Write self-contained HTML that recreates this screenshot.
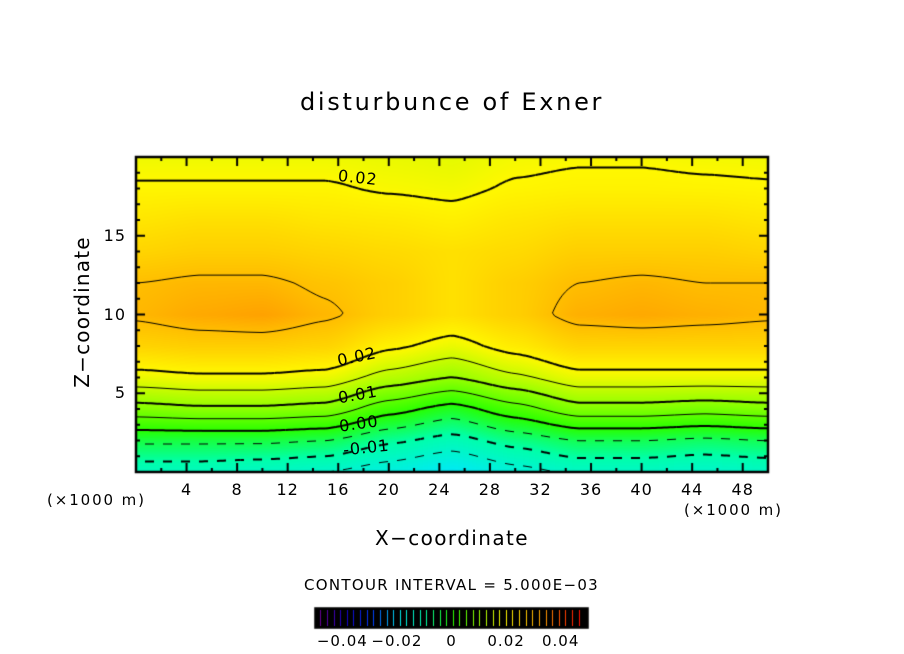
<!DOCTYPE html>
<html><head><meta charset="utf-8">
<style>
html,body{margin:0;padding:0;background:#fff;}
#root{position:relative;width:904px;height:654px;overflow:hidden;font-family:"DejaVu Sans","Liberation Sans",sans-serif;color:#000;}
.t{position:absolute;white-space:nowrap;}
canvas{position:absolute;left:0;top:0;}
</style></head>
<body>
<div id="root">
<canvas id="cv" width="904" height="654"></canvas>
<div class="t" style="left:300px;top:88px;font-size:24px;letter-spacing:2.7px;">disturbunce of Exner</div>
<div class="t" style="left:-8px;top:300px;font-size:20px;letter-spacing:1.2px;transform:rotate(-90deg);transform-origin:center;width:180px;text-align:center;">Z−coordinate</div>
<div class="t" style="left:375px;top:526px;font-size:20px;letter-spacing:1.4px;">X−coordinate</div>
<div class="t" style="left:47px;top:491px;font-size:15px;letter-spacing:1.9px;">(×1000 m)</div>
<div class="t" style="left:684px;top:501px;font-size:15px;letter-spacing:1.9px;">(×1000 m)</div>
<div class="t" style="left:304px;top:576px;font-size:15px;letter-spacing:1.3px;">CONTOUR INTERVAL = 5.000E−03</div>
<div class="t" style="left:338px;top:168px;font-size:16px;letter-spacing:1px;transform:rotate(6deg);">0.02</div>
<div class="t" style="left:337px;top:347px;font-size:16px;letter-spacing:1px;transform:rotate(-12deg);">0.02</div>
<div class="t" style="left:338px;top:385px;font-size:16px;letter-spacing:1px;transform:rotate(-10deg);">0.01</div>
<div class="t" style="left:339px;top:414px;font-size:16px;letter-spacing:1px;transform:rotate(-8deg);">0.00</div>
<div class="t" style="left:343px;top:438px;font-size:16px;letter-spacing:1px;transform:rotate(-6deg);">-0.01</div>
</div>
<script>
// data: x columns (km), z rows (km), values[col][row]
const xs=[0,5,10,15,20,25,30,35,40,45,50];
const zs=[0,2,4,6,8,10,12,14,16,18,20];
const col0=[-0.013,-0.004,0.008,0.018,0.026,0.031,0.030,0.026,0.023,0.0205,0.0185];
const col5=[-0.013,-0.004,0.009,0.019,0.027,0.033,0.031,0.027,0.024,0.0205,0.0185];
const col10=[-0.014,-0.004,0.009,0.019,0.027,0.034,0.031,0.027,0.024,0.0205,0.0185];
const col15=[-0.015,-0.005,0.008,0.018,0.026,0.031,0.029,0.026,0.023,0.0205,0.0185];
const col20=[-0.018,-0.009,0.002,0.013,0.021,0.027,0.027,0.025,0.0225,0.0195,0.018];
const col25=[-0.021,-0.012,-0.002,0.010,0.018,0.024,0.024,0.024,0.0215,0.019,0.0175];
const col30=[-0.017,-0.008,0.003,0.014,0.022,0.027,0.027,0.025,0.023,0.0205,0.019];
const col35=[-0.014,-0.005,0.008,0.018,0.026,0.032,0.030,0.027,0.024,0.021,0.0195];
const col40=[-0.014,-0.005,0.008,0.018,0.026,0.033,0.031,0.027,0.024,0.021,0.0195];
const col45=[-0.015,-0.006,0.007,0.018,0.026,0.032,0.030,0.027,0.024,0.0208,0.019];
const col50=[-0.014,-0.005,0.008,0.018,0.026,0.031,0.030,0.026,0.023,0.0205,0.0188];
const cols=[col0,col5,col10,col15,col20,col25,col30,col35,col40,col45,col50];
const levels=[-0.015,-0.01,-0.005,0,0.005,0.01,0.015,0.02,0.03];
const majorLevels=[-0.01,0,0.01,0.02];
const xTicks=[4,8,12,16,20,24,28,32,36,40,44,48];
const zTicks=[5,10,15];
const cbTicks=[-0.04,-0.02,0,0.02,0.04];
const cbTickLabels=["−0.04","−0.02","0","0.02","0.04"];

const L=136,R=768,T=157,B=472,XMAX=50,ZMAX=20;
const sx=x=>L+x/XMAX*(R-L), sz=z=>B-z/ZMAX*(B-T);
const cv=document.getElementById('cv'),ctx=cv.getContext('2d');
const root=document.getElementById('root');

function val(x,z){
  let i=0;while(i<xs.length-2&&x>xs[i+1])i++;
  let j=0;while(j<zs.length-2&&z>zs[j+1])j++;
  const tx=(x-xs[i])/(xs[i+1]-xs[i]),tz=(z-zs[j])/(zs[j+1]-zs[j]);
  const a=cols[i][j],b=cols[i+1][j],c=cols[i][j+1],d=cols[i+1][j+1];
  const sx_=tx*tx*(3-2*tx)*0.5+tx*0.5, sz_=tz;
  return (a*(1-sx_)+b*sx_)*(1-sz_)+(c*(1-sx_)+d*sx_)*sz_;
}
const stops=[[-0.05,[110,0,150]],[-0.04,[20,0,200]],[-0.03,[0,60,255]],[-0.02,[0,235,240]],[-0.01,[0,255,170]],[0,[40,255,0]],[0.01,[150,255,0]],[0.02,[255,248,0]],[0.025,[255,218,0]],[0.03,[255,190,0]],[0.035,[255,155,0]],[0.04,[255,90,0]],[0.05,[255,0,0]]];
function color(v){
  if(v<=stops[0][0])return stops[0][1];
  for(let k=0;k<stops.length-1;k++){
    if(v<=stops[k+1][0]){const t=(v-stops[k][0])/(stops[k+1][0]-stops[k][0]);
      return stops[k][1].map((c,n)=>Math.round(c+(stops[k+1][1][n]-c)*t));}
  }
  return stops[stops.length-1][1];
}
const img=ctx.createImageData(R-L,B-T);
for(let py=0;py<B-T;py++)for(let px=0;px<R-L;px++){
  const x=px/(R-L)*XMAX,z=(B-T-py)/(B-T)*ZMAX;
  const c=color(val(x,z));const o=(py*(R-L)+px)*4;
  img.data[o]=c[0];img.data[o+1]=c[1];img.data[o+2]=c[2];img.data[o+3]=255;
}
ctx.putImageData(img,L,T);
const step=3;
ctx.save();ctx.beginPath();ctx.rect(L,T,R-L,B-T);ctx.clip();
ctx.strokeStyle='#000';
levels.forEach(lev=>{
  const major=majorLevels.indexOf(lev)>=0;
  ctx.lineWidth=major?2:1;
  for(let px=L;px<R;px+=step)for(let py=T;py<B;py+=step){
    const p=[[px,py],[px+step,py],[px+step,py+step],[px,py+step]];
    const v=p.map(q=>val((q[0]-L)/(R-L)*XMAX,(B-q[1])/(B-T)*ZMAX));
    const pts=[];
    for(let e=0;e<4;e++){const a=v[e],b=v[(e+1)%4];
      if((a<lev)!==(b<lev)){const t=(lev-a)/(b-a);const A=p[e],Bp=p[(e+1)%4];pts.push([A[0]+(Bp[0]-A[0])*t,A[1]+(Bp[1]-A[1])*t]);}}
    if(pts.length>=2){
      if(lev<0&&Math.floor(px/9)%2===1)continue;
      ctx.beginPath();ctx.moveTo(pts[0][0],pts[0][1]);ctx.lineTo(pts[1][0],pts[1][1]);
      if(pts.length===4){ctx.moveTo(pts[2][0],pts[2][1]);ctx.lineTo(pts[3][0],pts[3][1]);}
      ctx.stroke();
    }
  }
});
ctx.restore();
ctx.strokeStyle='#000';ctx.lineWidth=2.5;ctx.strokeRect(L,T,R-L,B-T);
ctx.lineWidth=2;
for(let x=2;x<XMAX;x+=2){const len=x%4===0?9:4;
  ctx.beginPath();ctx.moveTo(sx(x),B);ctx.lineTo(sx(x),B-len);ctx.moveTo(sx(x),T);ctx.lineTo(sx(x),T+len);ctx.stroke();}
for(let z=1;z<ZMAX;z++){const len=z%5===0?9:4;
  ctx.beginPath();ctx.moveTo(L,sz(z));ctx.lineTo(L+len,sz(z));ctx.moveTo(R,sz(z));ctx.lineTo(R-len,sz(z));ctx.stroke();}
xTicks.forEach(x=>{const d=document.createElement('div');d.className='t';
  
  
  d.textContent=x;d.style.fontSize='16px';d.style.letterSpacing='1px';d.style.top='480px';d.style.left=(sx(x)-20)+'px';d.style.width='40px';d.style.textAlign='center';root.appendChild(d);});
zTicks.forEach(z=>{const d=document.createElement('div');d.className='t';
  
  
  d.textContent=z;d.style.fontSize='16px';d.style.letterSpacing='1px';d.style.top=(sz(z)-10)+'px';d.style.left='78px';d.style.width='48px';d.style.textAlign='right';root.appendChild(d);});
const CL=315,CR=588,CT=608,CB=628;
ctx.fillStyle='#000';ctx.fillRect(CL,CT,CR-CL,CB-CT);
for(let v=-0.0495;v<0.05;v+=0.0025){const x=Math.round(CL+4+(v+0.05)/0.1*(CR-CL-8));
  const c=color(v);ctx.fillStyle=`rgb(${c[0]},${c[1]},${c[2]})`;
  ctx.fillRect(x,CT+2,1,CB-CT-4);}
ctx.strokeStyle='#000';ctx.lineWidth=1.5;ctx.strokeRect(CL,CT,CR-CL,CB-CT);
cbTicks.forEach((v,i)=>{const d=document.createElement('div');d.className='t';
  
  
  d.textContent=cbTickLabels[i];d.style.fontSize='15px';d.style.letterSpacing='1px';d.style.top='632px';
  d.style.left=(CL+(v+0.05)/0.1*(CR-CL)-30)+'px';d.style.width='60px';d.style.textAlign='center';root.appendChild(d);});
</script>
</body></html>
